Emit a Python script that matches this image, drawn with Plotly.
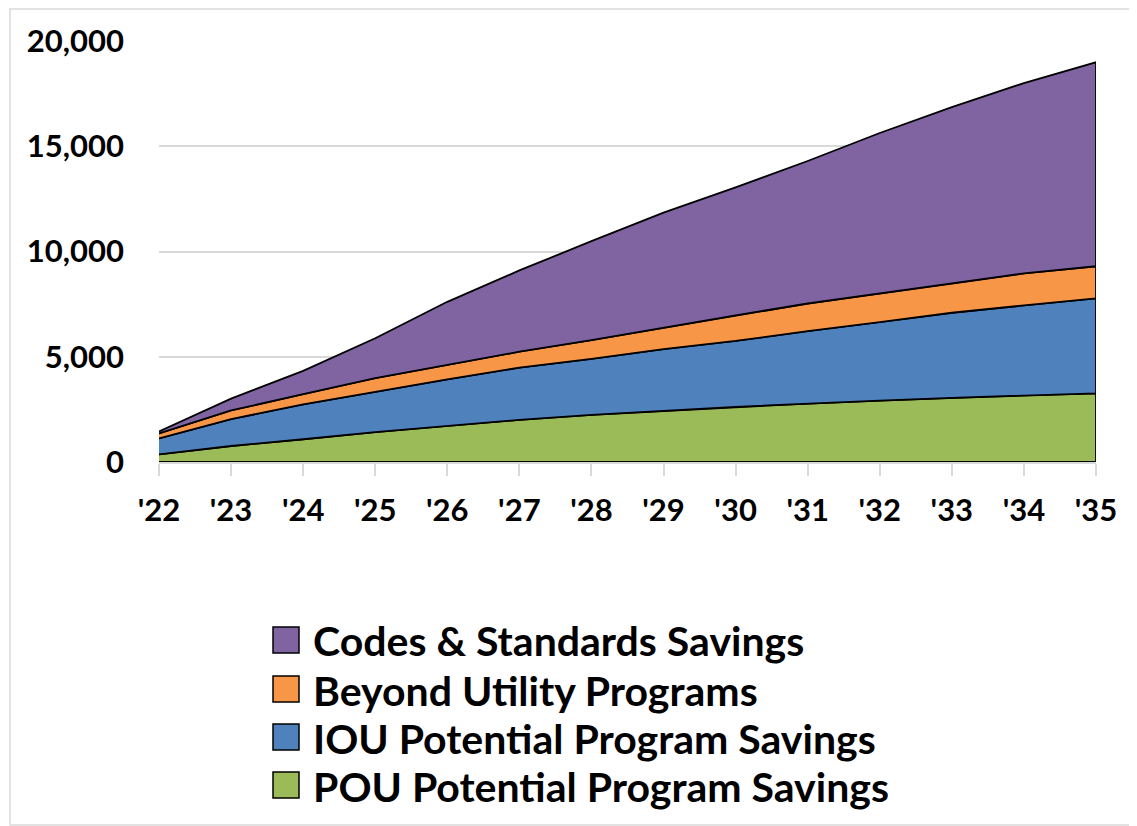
import plotly.graph_objects as go

# ---------------- data ----------------
years = ["'22", "'23", "'24", "'25", "'26", "'27", "'28", "'29", "'30", "'31", "'32", "'33", "'34", "'35"]
pou = [360, 760, 1080, 1420, 1720, 2000, 2240, 2430, 2620, 2780, 2920, 3050, 3170, 3260]
iou = [760, 1280, 1660, 1930, 2210, 2480, 2660, 2930, 3130, 3440, 3730, 4040, 4270, 4510]
beyond = [240, 410, 480, 630, 680, 760, 890, 1020, 1220, 1310, 1360, 1390, 1520, 1530]
codes = [90, 560, 1110, 1900, 3000, 3860, 4700, 5470, 6080, 6770, 7620, 8380, 9040, 9690]

series_names = ["POU Potential Program Savings", "IOU Potential Program Savings",
                "Beyond Utility Programs", "Codes & Standards Savings"]
series_values = [pou, iou, beyond, codes]
series_colors = ["#9BBB59", "#4F81BD", "#F79646", "#8064A2"]

y_tickvals = [0, 5000, 10000, 15000, 20000]

# ---------------- layout geometry ----------------
OFF = 8                      # default page body margin
W, H = 1137 - OFF, 826 - OFF
PLOT_L, PLOT_R, PLOT_T, PLOT_B = 159, 1096, 41, 462   # absolute page pixels
L = PLOT_L - OFF
T = PLOT_T - OFF
R = W + OFF - PLOT_R
B = H + OFF - PLOT_B
pw = PLOT_R - PLOT_L
ph = PLOT_B - PLOT_T


def px(x):
    return (x - PLOT_L) / pw


def py(y):
    return (PLOT_B - y) / ph


FONT = "Lato, 'Liberation Sans', Arial, sans-serif"

fig = go.Figure()

xs = list(range(len(years)))
bottom = [0] * len(years)
for name, vals, col in zip(series_names, series_values, series_colors):
    top = [b + v for b, v in zip(bottom, vals)]
    fig.add_trace(go.Scatter(
        x=xs + xs[::-1],
        y=top + bottom[::-1],
        fill="toself",
        fillcolor=col,
        mode="lines",
        line=dict(color="black", width=1.8),
        name=name,
        showlegend=False,
        hoverinfo="skip",
    ))
    bottom = top

# ---------------- manual legend (top to bottom: reverse stacking order) ----------------
row_centers = [640, 689, 737, 785]
sq = 26
for i, idx in enumerate(range(len(series_names) - 1, -1, -1)):
    cy = row_centers[i]
    fig.add_shape(type="rect", xref="paper", yref="paper",
                  x0=px(273), x1=px(273 + sq), y0=py(cy - sq / 2), y1=py(cy + sq / 2),
                  fillcolor=series_colors[idx], line=dict(color="black", width=1.5))
    fig.add_annotation(xref="paper", yref="paper", x=px(311), y=py(cy + 1),
                       xanchor="left", yanchor="middle", showarrow=False,
                       text=series_names[idx],
                       font=dict(family=FONT, size=41, color="black", weight="bold"))

# outer border
fig.add_shape(type="rect", xref="paper", yref="paper",
              x0=px(10), x1=px(1160), y0=py(825), y1=py(9),
              line=dict(color="#d9d9d9", width=1.5), fillcolor="rgba(0,0,0,0)", layer="below")

fig.update_layout(
    width=W, height=H,
    margin=dict(l=L, r=R, t=T, b=B),
    plot_bgcolor="white", paper_bgcolor="white",
    showlegend=False,
    xaxis=dict(
        range=[0, len(years) - 1],
        tickvals=xs, ticktext=years,
        showgrid=False, zeroline=False,
        showline=True, linecolor="#d9d9d9", linewidth=1.5,
        ticks="outside", ticklen=12, tickcolor="#d9d9d9", tickwidth=1.5,
        tickfont=dict(family=FONT, size=31, color="black", weight="bold"),
        ticklabelstandoff=8,
    ),
    yaxis=dict(
        range=[0, 20000],
        tickvals=y_tickvals, tickformat=",",
        showgrid=True, gridcolor="#d9d9d9", gridwidth=1.5,
        zeroline=False, showline=False, ticks="",
        tickfont=dict(family=FONT, size=31, color="black", weight="bold"),
        ticklabelstandoff=34,
    ),
)

fig.write_html("out.html")
